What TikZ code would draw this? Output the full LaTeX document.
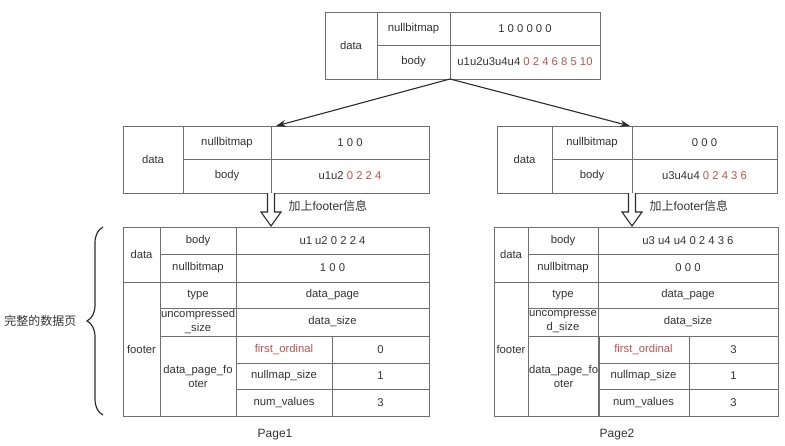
\documentclass[tikz,border=0pt]{standalone}
\usepackage{fontspec}
\setmainfont{Liberation Sans}
\newfontfamily\cjk{Noto Sans CJK SC}
\usepackage{tikz}
\usetikzlibrary{arrows.meta, positioning, calc, decorations.pathreplacing}
\usepackage{xcolor}
\definecolor{GridGray}{HTML}{6E6E6E}
\definecolor{TextDark}{HTML}{333333}
\definecolor{OrdRed}{HTML}{B85450}
\definecolor{ArrowDark}{HTML}{2B2B2B}
\tikzset{
    % table cells - sharp corners, anchored at top left
    cell/.style={
        rectangle,
        draw=GridGray,
        line width=0.8pt,
        anchor=north west,
        inner sep=1pt,
        outer sep=0pt,
        align=center,
        text=TextDark,
        font=\fontsize{11.3}{14}\selectfont
    },
    % arrow styles
    arrow/.style={
        -{Stealth[length=10pt, width=7pt]},
        line width=1.1pt,
        draw=ArrowDark
    },
    hollowarrow/.style={
        line width=1.1pt,
        draw=ArrowDark,
        fill=white,
        line join=miter
    },
    note/.style={
        text=TextDark,
        font=\cjk\fontsize{12}{14}\selectfont
    },
    pagelabel/.style={
        text=TextDark,
        font=\fontsize{12}{14}\selectfont
    }
}
\newcommand{\red}[1]{\textcolor{OrdRed}{#1}}
\newcommand{\cellbox}[6]{\node[cell, minimum width=#4pt, minimum height=#5pt] (#1) at (#2,#3) {#6};}

\begin{document}
\begin{tikzpicture}[x=1pt, y=-1pt]
    \useasboundingbox (0,0) rectangle (785,445);

    % source data
    \cellbox{tdata}{325}{12}{52}{67}{data}
    \cellbox{tnb}{377}{12}{73}{33}{nullbitmap}
    \cellbox{tnbv}{450}{12}{150}{33}{1 0 0 0 0 0}
    \cellbox{tbody}{377}{45}{73}{34}{body}
    \cellbox{tbodyv}{450}{45}{150}{34}{u1u2u3u4u4 \red{0 2 4 6 8 5 10}}

    % split: left part
    \cellbox{ldata}{123}{126}{60}{67}{data}
    \cellbox{lnb}{183}{126}{88}{33}{nullbitmap}
    \cellbox{lnbv}{271}{126}{158}{33}{1 0 0}
    \cellbox{lbody}{183}{159}{88}{34}{body}
    \cellbox{lbodyv}{271}{159}{158}{34}{u1u2 \red{0 2 2 4}}

    % split: right part
    \cellbox{rdata}{497}{126}{55}{67}{data}
    \cellbox{rnb}{552}{126}{80}{33}{nullbitmap}
    \cellbox{rnbv}{632}{126}{145}{33}{0 0 0}
    \cellbox{rbody}{552}{159}{80}{34}{body}
    \cellbox{rbodyv}{632}{159}{145}{34}{u3u4u4 \red{0 2 4 3 6}}

    \draw[arrow] (tbody.south east) -- ([xshift=5pt]lnbv.north west);
    \draw[arrow] (tbody.south east) -- ([xshift=-2pt]rnbv.north west);

    % add footer
    \draw[hollowarrow] (lbody.south east) ++(-3.5,0) -- ++(0,19) -- ++(-6.5,0)
        -- ++(10,14) -- ++(10,-14) -- ++(-6.5,0) -- ++(0,-19);
    \node[note, anchor=west] (lnote) at ([xshift=14pt, yshift=-13pt]lbody.south east) {加上\fontspec{Liberation Sans}footer\cjk 信息};
    \draw[hollowarrow] (rbody.south east) ++(-3.5,0) -- ++(0,19) -- ++(-6.5,0)
        -- ++(10,14) -- ++(10,-14) -- ++(-6.5,0) -- ++(0,-19);
    \node[note, anchor=west] (rnote) at ([xshift=14pt, yshift=-13pt]rbody.south east) {加上\fontspec{Liberation Sans}footer\cjk 信息};

    % Page1
    \cellbox{adata}{123}{227}{37}{55}{data}
    \cellbox{abody}{160}{227}{76}{27}{body}
    \cellbox{abodyv}{236}{227}{193}{27}{u1 u2 0 2 2 4}
    \cellbox{anb}{160}{254}{76}{28}{nullbitmap}
    \cellbox{anbv}{236}{254}{193}{28}{1 0 0}
    \cellbox{afooter}{123}{282}{37}{134}{footer}
    \cellbox{atype}{160}{282}{76}{26}{type}
    \cellbox{atypev}{236}{282}{193}{26}{data\_page}
    \cellbox{aunc}{160}{308}{76}{28}{uncompressed\\\_size}
    \cellbox{auncv}{236}{308}{193}{28}{data\_size}
    \cellbox{adpf}{160}{336}{76}{80}{data\_page\_fo\\oter}
    \cellbox{afo}{236}{336}{96}{27}{\red{first\_ordinal}}
    \cellbox{afov}{332}{336}{97}{27}{0}
    \cellbox{anms}{236}{363}{96}{26}{nullmap\_size}
    \cellbox{anmsv}{332}{363}{97}{26}{1}
    \cellbox{anv}{236}{389}{96}{27}{num\_values}
    \cellbox{anvv}{332}{389}{97}{27}{3}
    \node[pagelabel] (page1) at (275,435) {Page1};

    % Page2
    \cellbox{bdata}{494}{227}{34}{55}{data}
    \cellbox{bbody}{528}{227}{70}{27}{body}
    \cellbox{bbodyv}{598}{227}{180}{27}{u3 u4 u4 0 2 4 3 6}
    \cellbox{bnb}{528}{254}{70}{28}{nullbitmap}
    \cellbox{bnbv}{598}{254}{180}{28}{0 0 0}
    \cellbox{bfooter}{494}{282}{34}{134}{footer}
    \cellbox{btype}{528}{282}{70}{26}{type}
    \cellbox{btypev}{598}{282}{180}{26}{data\_page}
    \cellbox{bunc}{528}{308}{70}{28}{uncompresse\\d\_size}
    \cellbox{buncv}{598}{308}{180}{28}{data\_size}
    \cellbox{bdpf}{528}{336}{70}{80}{data\_page\_fo\\oter}
    \cellbox{bfo}{598}{336}{91}{27}{\red{first\_ordinal}}
    \cellbox{bfov}{689}{336}{89}{27}{3}
    \cellbox{bnms}{598}{363}{91}{26}{nullmap\_size}
    \cellbox{bnmsv}{689}{363}{89}{26}{1}
    \cellbox{bnv}{598}{389}{91}{27}{num\_values}
    \cellbox{bnvv}{689}{389}{89}{27}{3}
    \node[pagelabel] (page2) at (617,435) {Page2};

    % whole page brace
    \draw[decorate, decoration={brace, amplitude=16pt}, line width=1.2pt, draw=ArrowDark]
        ([xshift=-20pt, yshift=1pt]afooter.south west) -- ([xshift=-20pt]adata.north west);
    \node[note, anchor=east] (fullpage) at (80,321) {完整的数据页};
\end{tikzpicture}
\end{document}
